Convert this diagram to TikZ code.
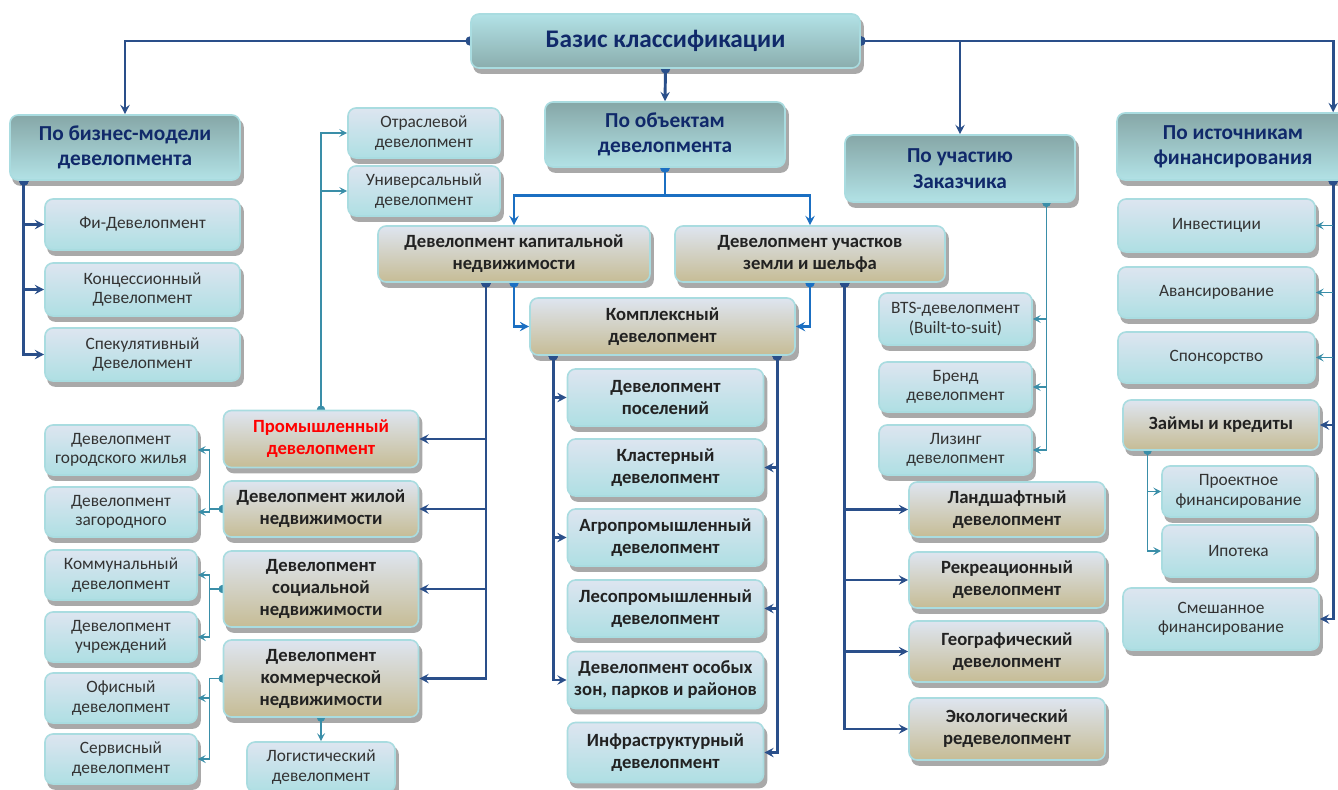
\documentclass[tikz,border=0pt]{standalone}
\usepackage{fontspec}
\setmainfont{Carlito}
\usetikzlibrary{arrows.meta,calc}

\pgfdeclarelayer{shade}
\pgfdeclarelayer{lines}
\pgfsetlayers{shade,lines,main}

\definecolor{boxedge}{HTML}{A9DCE0}
\definecolor{bluetop}{HTML}{DDE5F0}
\definecolor{bluebot}{HTML}{AEDFE3}
\definecolor{beigetop}{HTML}{DEE5F0}
\definecolor{beigebot}{HTML}{C6BC95}
\definecolor{cattop}{HTML}{86A7A7}
\definecolor{catbot}{HTML}{B2E2E6}
\definecolor{navytext}{HTML}{10296A}
\definecolor{txtgrey}{HTML}{333333}
\definecolor{txtdark}{HTML}{222222}
\definecolor{linenavy}{HTML}{2A4F8A}
\definecolor{lineblue}{HTML}{1B6FC2}
\definecolor{lineteal}{HTML}{3A8EA8}
\definecolor{shadegrey}{HTML}{A9A9A9}

\tikzset{every picture/.style={line width=0.75pt}}
\tikzset{
  sz/.style 2 args={minimum width=#1*0.75pt, minimum height=#2*0.75pt},
  box/.style={rounded corners=6pt, draw=boxedge, line width=1.2pt, align=center, inner sep=1pt},
  bluebox/.style={box, top color=bluetop, bottom color=bluebot, text=txtgrey, font=\fontsize{13}{14.5}\selectfont},
  midbox/.style={box, top color=bluetop, bottom color=bluebot, text=txtdark, font=\bfseries\fontsize{14}{16.5}\selectfont},
  beigebox/.style={box, top color=beigetop, bottom color=beigebot, text=txtdark, font=\bfseries\fontsize{14}{16.5}\selectfont},
  catbox/.style={box, top color=cattop, bottom color=catbot, text=navytext, font=\bfseries\fontsize{16}{19}\selectfont},
  basisbox/.style={box, top color=catbot, bottom color=cattop!90!catbot, text=navytext, font=\bfseries\fontsize{19}{21}\selectfont},
  boxshade/.style={fill=shadegrey, rounded corners=6pt},
  navyline/.style={draw=linenavy, line width=2.2pt, shorten <=-3.5pt,
    {Circle[length=7pt]}-{Stealth[length=7pt,width=7pt,inset=2.5pt]}},
  blueline/.style={navyline, draw=lineblue},
  tealline/.style={draw=lineteal, line width=1.1pt, shorten <=-3pt,
    {Circle[length=6pt]}-{Stealth[length=6pt,width=6pt,inset=2.5pt]}},
  tealarrow/.style={draw=lineteal, line width=1.1pt, -{Stealth[length=6pt,width=6pt,inset=2.5pt]}},
}

\begin{document}
\begin{tikzpicture}[x=0.75pt,y=0.75pt,yscale=-1,xscale=1]
\useasboundingbox (0,0) rectangle (1338,789);

%% top level
\node[basisbox, sz={389}{54}] (basis) at (665.5,41) {Базис классификации};
\node[catbox, sz={230}{65}] (biz) at (125,147.5) {По бизнес-модели\\девелопмента};
\node[catbox, sz={240}{65}] (obj) at (665,134.5) {По объектам\\девелопмента};
\node[catbox, sz={230}{67}] (uch) at (960,168.5) {По участию\\Заказчика};
\node[catbox, sz={232}{67}] (ist) at (1233,146.5) {По источникам\\финансирования};

%% business model
\node[bluebox, sz={195}{51}] (fi) at (142.5,224.5) {Фи-Девелопмент};
\node[bluebox, sz={195}{53}] (konc) at (142.5,289.5) {Концессионный\\Девелопмент};
\node[bluebox, sz={195}{53}] (spek) at (142.5,354.5) {Спекулятивный\\Девелопмент};

%% objects
\node[bluebox, sz={152}{50}] (otr) at (424,133) {Отраслевой\\девелопмент};
\node[bluebox, sz={152}{50}] (univ) at (424,191) {Универсальный\\девелопмент};
\node[beigebox, sz={272}{56}] (kap) at (514,254) {Девелопмент капитальной\\недвижимости};
\node[beigebox, sz={270}{56}] (zem) at (810,254) {Девелопмент участков\\земли и шельфа};
\node[beigebox, sz={265}{57}] (kompl) at (662.5,326.5) {Комплексный\\девелопмент};

\node[beigebox, sz={195}{57}, text=red] (prom) at (321,439) {Промышленный\\девелопмент};
\node[beigebox, sz={195}{56}] (zhil) at (321,509) {Девелопмент жилой\\недвижимости};
\node[beigebox, sz={195}{76}] (soc) at (321,589) {Девелопмент\\социальной\\недвижимости};
\node[beigebox, sz={195}{77}] (komm) at (321,678.5) {Девелопмент\\коммерческой\\недвижимости};
\node[bluebox, sz={148}{50}] (logist) at (321,767) {Логистический\\девелопмент};

\node[bluebox, sz={152}{50}] (gor) at (121,450) {Девелопмент\\городского жилья};
\node[bluebox, sz={152}{50}] (zag) at (121,512) {Девелопмент\\загородного};
\node[bluebox, sz={152}{50}] (kommun) at (121,575) {Коммунальный\\девелопмент};
\node[bluebox, sz={152}{50}] (uchr) at (121,637) {Девелопмент\\учреждений};
\node[bluebox, sz={152}{50}] (ofis) at (121,698) {Офисный\\девелопмент};
\node[bluebox, sz={152}{50}] (serv) at (121,759) {Сервисный\\девелопмент};

\node[midbox, sz={196}{57}] (posel) at (665.5,397.5) {Девелопмент\\поселений};
\node[midbox, sz={196}{57}] (klast) at (665.5,467.5) {Кластерный\\девелопмент};
\node[midbox, sz={196}{57}] (agro) at (665.5,537.5) {Агропромышленный\\девелопмент};
\node[midbox, sz={196}{57}] (les) at (665.5,608.5) {Лесопромышленный\\девелопмент};
\node[midbox, sz={196}{57}] (zony) at (665.5,680) {Девелопмент особых\\зон, парков и районов};
\node[midbox, sz={196}{60}] (infra) at (665.5,752.5) {Инфраструктурный\\девелопмент};

\node[beigebox, sz={196}{55}] (land) at (1007,509.5) {Ландшафтный\\девелопмент};
\node[beigebox, sz={196}{56}] (rekr) at (1007,580) {Рекреационный\\девелопмент};
\node[beigebox, sz={196}{61}] (geo) at (1007,651.5) {Географический\\девелопмент};
\node[beigebox, sz={196}{62}] (eko) at (1007,729) {Экологический\\редевелопмент};

%% customer
\node[bluebox, sz={153}{52}] (bts) at (955.5,319) {BTS-девелопмент\\(Built-to-suit)};
\node[bluebox, sz={153}{50}] (brend) at (955.5,387) {Бренд\\девелопмент};
\node[bluebox, sz={153}{50}] (lizing) at (955.5,450) {Лизинг\\девелопмент};

%% financing
\node[bluebox, sz={197}{53}] (invest) at (1216.5,225.5) {Инвестиции};
\node[bluebox, sz={197}{51}] (avans) at (1216.5,292.5) {Авансирование};
\node[bluebox, sz={197}{51}] (spons) at (1216.5,357.5) {Спонсорство};
\node[beigebox, sz={196}{50}] (zaim) at (1221,425) {Займы и кредиты};
\node[bluebox, sz={153}{51}] (proekt) at (1238.5,491.5) {Проектное\\финансирование};
\node[bluebox, sz={153}{52}] (ipot) at (1238.5,551) {Ипотека};
\node[bluebox, sz={196}{62}] (smesh) at (1221,619) {Смешанное\\финансирование};

\coordinate (bizD) at ([xshift=11pt]biz.south west);
\coordinate (kapD) at ([xshift=-21pt]kap.south);
\coordinate (zemD) at ([xshift=26pt]zem.south);
\coordinate (komL) at ([xshift=18pt]kompl.south west);
\coordinate (komR) at ([xshift=-14pt]kompl.south east);
\coordinate (uchD) at ([xshift=-22pt]uch.south east);
\coordinate (istD) at ([xshift=-12.5pt]ist.south east);
\coordinate (zaimD) at ([xshift=19pt]zaim.south west);

%% shadows
\begin{pgfonlayer}{shade}
\foreach \n in {basis,biz,obj,uch,ist,fi,konc,spek,otr,univ,kap,zem,kompl,prom,zhil,soc,komm,logist,
  gor,zag,kommun,uchr,ofis,serv,posel,klast,agro,les,zony,infra,land,rekr,geo,eko,bts,brend,lizing,
  invest,avans,spons,zaim,proekt,ipot,smesh}
  \fill[boxshade] ($(\n.north west)+(3,5)$) rectangle ($(\n.south east)+(3,5)$);
\end{pgfonlayer}

\begin{pgfonlayer}{lines}
%% from the basis
\draw[navyline] (basis.west) -| (biz.north);
\draw[navyline] (basis.east) -| (uch.north);
\draw[navyline] (basis.east) -| (istD |- ist.north);
\draw[navyline] (basis.south) -- (obj.north);

%% business model
\foreach \t in {fi,konc,spek}
  \draw[navyline] (bizD) |- (\t.west);

%% objects
\draw[blueline] (obj.south) -- ++(0,28) -| (kap.north);
\draw[blueline] (obj.south) -- ++(0,28) -| (zem.north);
\draw[blueline] (kap.south) |- (kompl.west);
\draw[blueline] (zem.south) |- (kompl.east);
\foreach \t in {prom,zhil,soc,komm}
  \draw[navyline] (kapD) |- (\t.east);
\foreach \t in {posel,agro,zony}
  \draw[navyline] (komL) |- (\t.west);
\foreach \t in {klast,les,infra}
  \draw[navyline] (komR) |- (\t.east);
\foreach \t in {land,rekr,geo,eko}
  \draw[navyline] (zemD) |- (\t.west);

\draw[tealline] (prom.north) |- (otr.west);
\draw[tealline] (prom.north) |- (univ.west);
\draw[tealline] (zhil.west) -- ++(-13,0) |- (gor.east);
\draw[tealline] (zhil.west) -- ++(-13,0) |- (zag.east);
\draw[tealline] (soc.west) -- ++(-13,0) |- (kommun.east);
\draw[tealline] (soc.west) -- ++(-13,0) |- (uchr.east);
\draw[tealline] (komm.west) -- ++(-13,0) |- (ofis.east);
\draw[tealline] (komm.west) -- ++(-13,0) |- (serv.east);
\draw[tealline] (komm.south) -- (logist.north);

%% customer
\foreach \t in {bts,brend,lizing}
  \draw[tealline] (uchD) |- (\t.east);

%% financing
\draw[navyline] (istD) |- (zaim.east);
\draw[navyline] (istD) |- (smesh.east);
\foreach \t in {invest,avans,spons}
  \draw[tealarrow] (istD |- \t.east) -- (\t.east);
\draw[tealline] (zaimD) |- (proekt.west);
\draw[tealline] (zaimD) |- (ipot.west);
\end{pgfonlayer}
\end{tikzpicture}
\end{document}
